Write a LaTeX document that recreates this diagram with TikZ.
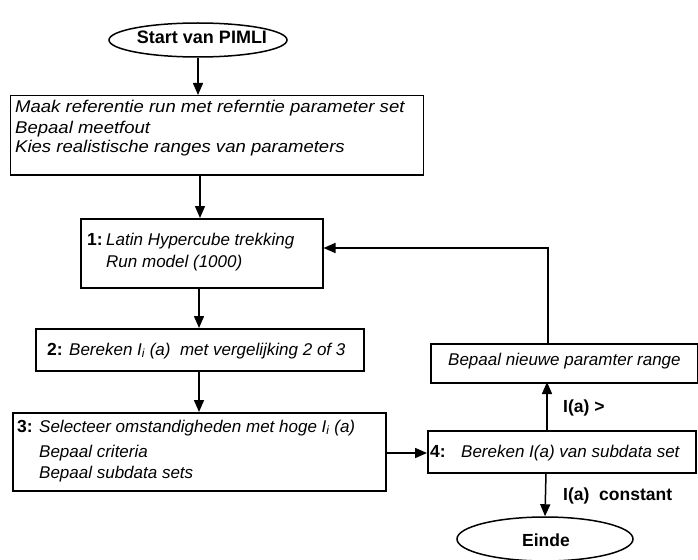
\documentclass[tikz,border=0pt]{standalone}
\usepackage{fontspec}
\setmainfont{Liberation Sans}
\newfontfamily\widesans[FakeStretch=1.09]{Liberation Sans}
\usetikzlibrary{arrows.meta,shapes.geometric}
\begin{document}
\begin{tikzpicture}[x=1pt,y=-1pt,
  box/.style={draw,line width=1.5pt,anchor=north west,inner sep=0pt},
  oval/.style={draw,line width=1.5pt,ellipse,inner sep=0pt},
  txt/.style={anchor=base west,inner sep=0pt,font=\fontsize{17}{20}\selectfont\itshape},
  wtxt/.style={anchor=base west,inner sep=0pt,font=\widesans\fontsize{17}{20}\selectfont\itshape},
  btxt/.style={anchor=base west,inner sep=0pt,font=\fontsize{17.5}{20}\selectfont\bfseries},
  arr/.style={line width=1.5pt,-{Triangle[length=12pt,width=10pt]}},
  ln/.style={line width=1.5pt}]
\useasboundingbox (0,0) rectangle (698,559);
% shapes
\node[oval,minimum width=178pt,minimum height=34pt] (start) at (198,40) {};
\node[box,minimum width=413pt,minimum height=79pt] (b0) at (9.5,95) {};
\node[box,minimum width=242pt,minimum height=69pt] (b1) at (80,218) {};
\node[box,minimum width=328pt,minimum height=42pt] (b2) at (35,328) {};
\node[box,minimum width=373pt,minimum height=78pt] (b3) at (12,412) {};
\node[box,minimum width=267pt,minimum height=39pt] (bn) at (430,343) {};
\node[box,minimum width=268pt,minimum height=42pt] (b4) at (427,430) {};
\node[oval,minimum width=176pt,minimum height=44pt] (einde) at (545,539) {};
% texts
\node[btxt,anchor=base,font=\fontsize{18}{20}\selectfont\bfseries] (ts) at (202,44) {Start van PIMLI};
\node[wtxt] (t01) at (15,113) {Maak referentie run met referntie parameter set};
\node[wtxt] (t02) at (15,133) {Bepaal meetfout};
\node[wtxt] (t03) at (15,152) {Kies realistische ranges van parameters};
\node[btxt] (n1) at (87,245) {1:};
\node[txt] (t11) at (106,245) {Latin Hypercube trekking};
\node[txt] (t12) at (106,267) {Run model (1000)};
\node[btxt] (n2) at (47,355) {2:};
\node[txt] (t21) at (69,355) {Bereken I\textsubscript{i} (a)\ \ met vergelijking 2 of 3};
\node[btxt] (n3) at (17,432) {3:};
\node[txt] (t31) at (39,432) {Selecteer omstandigheden met hoge I\textsubscript{i} (a)};
\node[txt] (t32) at (39,457) {Bepaal criteria};
\node[txt] (t33) at (39,478) {Bepaal subdata sets};
\node[txt] (tn) at (448,365) {Bepaal nieuwe paramter range};
\node[btxt] (n4) at (430,457) {4:};
\node[txt] (t41) at (461,457) {Bereken I(a) van subdata set};
\node[btxt] (la) at (563,412) {I(a) >};
\node[btxt] (lb) at (563,500) {I(a)\ \ constant};
\node[btxt] (te) at (522,546) {Einde};
% connectors
\coordinate (c1) at (548,248);
\draw[arr] (start.south) -- (start.south |- b0.north);
\draw[arr] (200,174) -- (200,218);
\draw[arr] (199,287) -- (199,328);
\draw[arr] (199,370) -- (199,412);
\draw[arr] (b3.east |- 0,453) -- (b4.west |- 0,453);
\draw[arr] (547,430) -- (547,382);
\draw[arr] (546,472) -- (einde.north);
\draw[ln,-{Triangle[length=12pt,width=10pt]}] (548,343) -- (c1) -- (b1.east |- c1);
\end{tikzpicture}
\end{document}
